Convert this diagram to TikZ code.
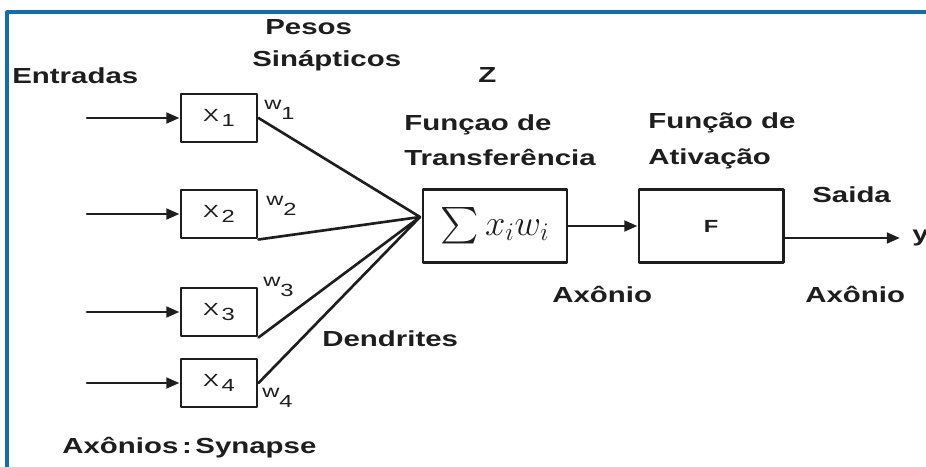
\documentclass[tikz,border=0pt]{standalone}
\usepackage{amsmath}
\usepackage{fontspec}
\setmainfont{Liberation Sans}[FakeStretch=1.35]
\usetikzlibrary{arrows.meta}
\definecolor{framecol}{RGB}{18,108,176}
\definecolor{ink}{RGB}{30,30,30}
\newcommand{\inidx}[2]{#1\hspace{1.5pt}\raisebox{-3pt}{#2}}
\newcommand{\wtidx}[2]{#1\raisebox{-5.5pt}{#2}}
\tikzset{
  lbl/.style={font=\fontsize{12.4}{14}\selectfont\bfseries,text=ink,inner sep=0pt,anchor=base west},
  sml/.style={font=\fontsize{10}{11}\selectfont,text=ink,inner sep=0pt},
  inbox/.style={draw=ink,line width=1.7pt,minimum width=15.2mm,minimum height=9.6mm,inner sep=0pt,font=\fontsize{10}{11}\selectfont,text=ink},
  bigbox/.style={draw=ink,line width=1.7pt,minimum width=28.8mm,minimum height=14.6mm,inner sep=0pt,text=ink},
  arr/.style={draw=ink,line width=1.7pt,-{Triangle[length=7.5pt,width=6pt]}},
  dend/.style={draw=ink,line width=1.5pt}
}
\begin{document}
\begin{tikzpicture}[x=0.2mm,y=-0.2mm,line cap=round,line join=round]
  \useasboundingbox (0,0) rectangle (926,467);
  \fill[white] (0,0) rectangle (926,467);
  \draw[framecol,line width=1.8pt] (7,480)--(7,12)--(940,12);
  \node[inbox] (x1) at (219,118) {\inidx{X}{1}};
  \node[inbox] (x2) at (219,214) {\inidx{X}{2}};
  \node[inbox] (x3) at (219,312) {\inidx{X}{3}};
  \node[inbox] (x4) at (219,383) {\inidx{X}{4}};
  \node[bigbox,font=\fontsize{21}{24}\selectfont] (sum) at (495,226) {$\sum x_i w_i$};
  \node[bigbox,font=\fontsize{10}{12}\selectfont\bfseries] (act) at (711,226) {F};
  \coordinate (in1) at (87,118);
  \coordinate (in2) at (87,214);
  \coordinate (in3) at (87,312);
  \coordinate (in4) at (87,383);
  \coordinate (cv) at (420,217);
  \coordinate (yout) at (900,238);
  \draw[arr] (in1)--(x1);
  \draw[arr] (in2)--(x2);
  \draw[arr] (in3)--(x3);
  \draw[arr] (in4)--(x4);
  \draw[dend] (x1.east)--(cv);
  \draw[dend] (x2.south east)--(cv);
  \draw[dend] (x3.south east)--(cv);
  \draw[dend] (x4.east)--(cv);
  \draw[arr] (sum)--(act);
  \draw[arr] (act.east |- yout)--(yout);
  \node[sml,anchor=west,font=\fontsize{12.4}{14}\selectfont\bfseries] (ylbl) at (912,238) {y};
  \node[sml,anchor=north west] (w1) at (264,100) {\wtidx{w}{1}};
  \node[sml,anchor=north west] (w2) at (266,196) {\wtidx{w}{2}};
  \node[sml,anchor=north west] (w3) at (263,277) {\wtidx{w}{3}};
  \node[sml,anchor=north west] (w4) at (262,388) {\wtidx{w}{4}};
  \node[lbl] (pesos) at (265,35) {Pesos};
  \node[lbl] (sinap) at (252,67) {Sinápticos};
  \node[lbl] (entr) at (12,84) {Entradas};
  \node[lbl] (zlbl) at (478,83) {Z};
  \node[lbl] (ftr1) at (404,131) {Funçao de};
  \node[lbl] (ftr2) at (404,166) {Transferência};
  \node[lbl] (fat1) at (648,129) {Função de};
  \node[lbl] (fat2) at (648,165) {Ativação};
  \node[lbl] (saida) at (812,203) {Saida};
  \node[lbl] (ax1) at (552,303) {Axônio};
  \node[lbl] (ax2) at (805,303) {Axônio};
  \node[lbl] (dend) at (322,347) {Dendrites};
  \node[lbl] (syn) at (62,453) {Axônios\,:\,Synapse};
\end{tikzpicture}
\end{document}
